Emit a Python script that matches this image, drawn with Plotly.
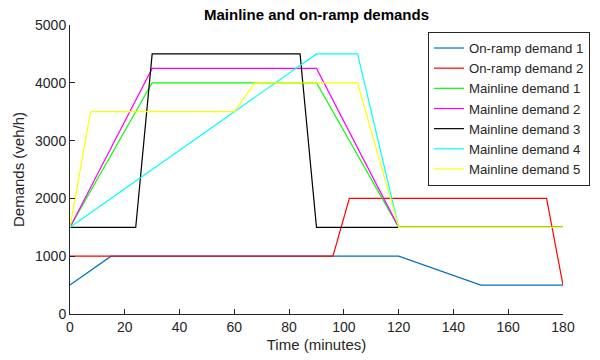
import plotly.graph_objects as go

names = ["On-ramp demand 1", "On-ramp demand 2", "Mainline demand 1", "Mainline demand 2",
         "Mainline demand 3", "Mainline demand 4", "Mainline demand 5"]
colors = ["#0072BD", "#FF0000", "#00FF00", "#FF00FF", "#000000", "#00FFFF", "#FFFF00"]

onramp1_t = [0, 15, 120, 150, 180]
onramp1_v = [500, 1000, 1000, 500, 500]
onramp2_t = [0, 96, 102, 174, 180]
onramp2_v = [1000, 1000, 2000, 2000, 500]
main1_t = [0, 30, 90, 120, 180]
main1_v = [1500, 4000, 4000, 1500, 1500]
main2_t = [0, 30, 90, 120, 180]
main2_v = [1500, 4250, 4250, 1500, 1500]
main3_t = [0, 24, 30, 84, 90, 120, 180]
main3_v = [1500, 1500, 4500, 4500, 1500, 1500, 1500]
main4_t = [0, 90, 105, 120, 180]
main4_v = [1500, 4500, 4500, 1500, 1500]
main5_t = [0, 7.5, 60, 67.5, 105, 120, 180]
main5_v = [1500, 3500, 3500, 4000, 4000, 1500, 1500]

series = [(onramp1_t, onramp1_v), (onramp2_t, onramp2_v), (main1_t, main1_v), (main2_t, main2_v),
          (main3_t, main3_v), (main4_t, main4_v), (main5_t, main5_v)]

x_ticks = list(range(0, 181, 20))
y_ticks = list(range(0, 5001, 1000))

fig = go.Figure()
for name, color, (t, v) in zip(names, colors, series):
    fig.add_trace(go.Scatter(x=t, y=v, mode="lines", name=name,
                             line=dict(color=color, width=1.2)))

axis_common = dict(showgrid=False, zeroline=False, showline=True, linecolor="#262626",
                   linewidth=1, ticks="inside", ticklen=5, tickcolor="#262626",
                   tickfont=dict(size=14, color="#262626"), mirror=False, automargin=False)

fig.update_layout(
    width=600, height=360,
    margin=dict(l=70, r=37, t=25, b=46, autoexpand=False),
    paper_bgcolor="white", plot_bgcolor="white",
    font=dict(family="Liberation Sans, Arial, sans-serif", color="#262626"),
    title=dict(text="<b>Mainline and on-ramp demands</b>", x=(70 + 563) / 2 / 600, xanchor="center",
               y=1 - 15 / 360, yanchor="middle", font=dict(size=15, color="#000000")),
    xaxis=dict(range=[0, 180], tickvals=x_ticks,
               title=dict(text="Time (minutes)", font=dict(size=15), standoff=5), **axis_common),
    yaxis=dict(range=[0, 5000], tickvals=y_ticks,
               title=dict(text="Demands (veh/h)", font=dict(size=15), standoff=6), **axis_common),
    legend=dict(x=1.0548, xanchor="right", y=0.976, yanchor="top",
                bordercolor="#262626", borderwidth=1, bgcolor="white",
                font=dict(size=13.2, color="#262626"), tracegroupgap=0),
    showlegend=True,
)

fig.write_html("out.html")
